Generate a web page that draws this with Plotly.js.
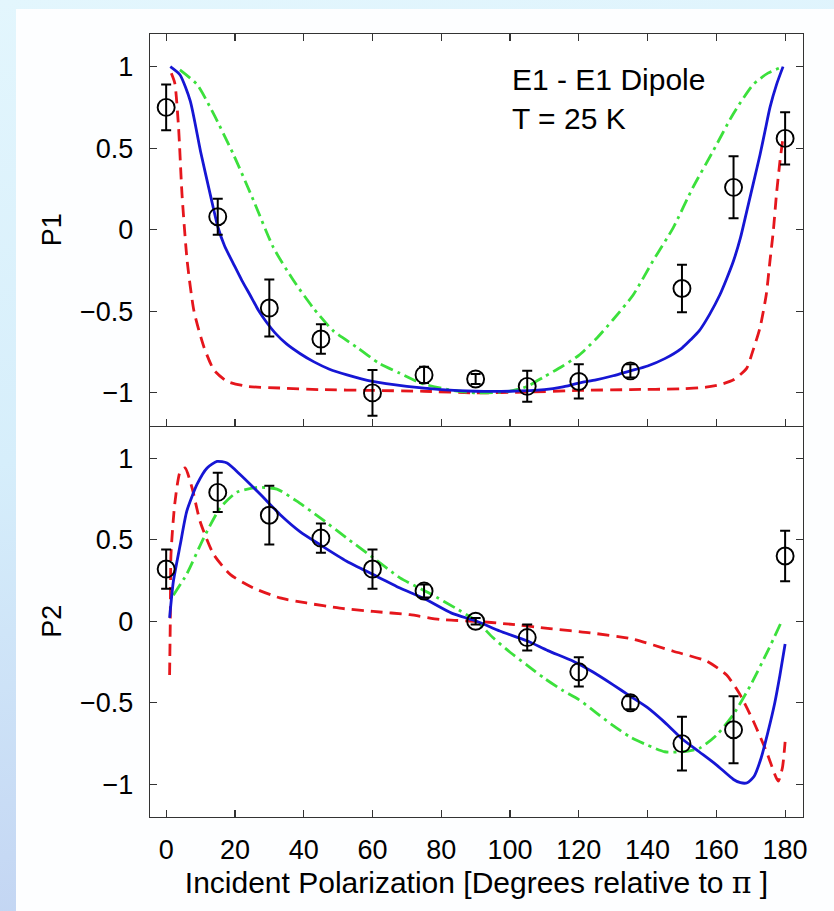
<!DOCTYPE html>
<html>
<head>
<meta charset="utf-8">
<script src="https://cdn.plot.ly/plotly-3.0.1.min.js"></script>
<style>
  html, body { margin:0; padding:0; width:834px; height:911px; overflow:hidden; }
  body { background: linear-gradient(172deg, #e3f6fd 0%, #d6eefb 45%, #bfd0f1 100%); position:relative; }
  #card { position:absolute; left:16px; top:9px; right:0; bottom:0; background:#fdfeff; }
  #chart { position:absolute; left:0; top:0; width:834px; height:911px; }
</style>
</head>
<body>
<div id="card"></div>
<div id="chart"></div>
<script>
// ---- measured data points (incident polarization, degrees) ----
const angles = [0, 15, 30, 45, 60, 75, 90, 105, 120, 135, 150, 165, 180];
const p1Obs = [0.75, 0.08, -0.48, -0.67, -1.0, -0.89, -0.915, -0.96, -0.93, -0.865, -0.36, 0.26, 0.56];
const p1Err = [0.14, 0.11, 0.175, 0.09, 0.14, 0.05, 0.03, 0.095, 0.105, 0.04, 0.145, 0.19, 0.16];
const p2Obs = [0.32, 0.79, 0.65, 0.51, 0.32, 0.185, 0.0, -0.1, -0.31, -0.5, -0.75, -0.665, 0.4];
const p2Err = [0.12, 0.12, 0.18, 0.09, 0.12, 0.04, 0.02, 0.08, 0.09, 0.04, 0.165, 0.205, 0.155];

// ---- P1 model curves ----
const p1BlueX = [1.2, 4, 7, 10, 13, 15, 17, 19.6, 22, 24.4, 27, 29.3, 32, 35, 39, 43, 47.5, 52.6, 60, 70, 80, 90, 100, 110, 115, 120, 125, 130, 135, 140, 145, 150, 152.5, 155, 158, 161, 163, 165, 167, 168.8, 170.7, 172.7, 174.2, 175.6, 177.5, 179.4];
const p1BlueY = [1.0, 0.95, 0.79, 0.48, 0.2, 0.02, -0.1, -0.21, -0.31, -0.40, -0.50, -0.57, -0.64, -0.70, -0.76, -0.81, -0.855, -0.89, -0.93, -0.96, -0.98, -0.99, -0.99, -0.98, -0.965, -0.94, -0.92, -0.895, -0.865, -0.835, -0.79, -0.725, -0.675, -0.62, -0.52, -0.40, -0.30, -0.19, -0.05, 0.11, 0.28, 0.46, 0.61, 0.75, 0.89, 1.0];
const p1GreenX = [4, 9, 13.8, 19.6, 25.4, 31.2, 37, 42.8, 48.6, 55.4, 62, 68, 74, 82, 90, 100, 105, 110, 115, 120, 125, 130, 135.8, 141.6, 147.4, 153.2, 159, 164.9, 170.7, 175, 179.4];
const p1GreenY = [0.98, 0.89, 0.71, 0.46, 0.18, -0.11, -0.31, -0.48, -0.62, -0.72, -0.82, -0.88, -0.94, -0.98, -1.0, -0.99, -0.96, -0.90, -0.84, -0.77, -0.67, -0.55, -0.40, -0.19, 0.01, 0.26, 0.48, 0.71, 0.89, 0.96, 1.0];
const p1RedX = [1.5, 2.5, 3.6, 4.6, 6.1, 8.1, 11, 13.9, 17.8, 23.6, 33, 45, 60, 75, 90, 105, 120, 135, 150, 157, 161, 165, 168.8, 170.5, 172.7, 174.5, 175.6, 176.6, 177.5, 178.5, 179.3];
const p1RedY = [0.96, 0.9, 0.63, 0.22, -0.19, -0.5, -0.72, -0.86, -0.93, -0.96, -0.97, -0.98, -0.985, -0.99, -1.0, -0.995, -0.985, -0.98, -0.975, -0.965, -0.95, -0.92, -0.85, -0.75, -0.6, -0.4, -0.19, 0.0, 0.22, 0.42, 0.55];

// ---- P2 model curves ----
const p2BlueX = [1, 2.1, 4.1, 6, 9, 11.9, 14.8, 17.7, 21.5, 27.3, 33.1, 38.9, 44.7, 52.5, 60.2, 68, 75, 83, 90.3, 97, 104.9, 111, 118.4, 124, 130, 135, 140, 145, 150, 155, 160, 165, 167, 169, 171, 173, 175, 177, 178.5, 180];
const p2BlueY = [0.02, 0.245, 0.47, 0.675, 0.84, 0.94, 0.98, 0.97, 0.90, 0.78, 0.655, 0.55, 0.47, 0.368, 0.286, 0.204, 0.14, 0.05, 0.0, -0.06, -0.12, -0.18, -0.245, -0.31, -0.39, -0.46, -0.53, -0.62, -0.72, -0.80, -0.88, -0.97, -0.99, -0.99, -0.95, -0.84, -0.68, -0.50, -0.33, -0.14];
const p2GreenX = [2.1, 6, 10.9, 15.7, 20.5, 26.4, 32.2, 38, 44.8, 52.5, 60.2, 68, 76.7, 85, 90.3, 95, 100, 105, 110, 115, 120, 125, 130, 135, 140, 145, 150, 155, 160, 165, 170, 175, 179];
const p2GreenY = [0.16, 0.29, 0.51, 0.695, 0.79, 0.82, 0.81, 0.736, 0.634, 0.51, 0.39, 0.266, 0.17, 0.07, 0.0, -0.1, -0.19, -0.27, -0.35, -0.42, -0.48, -0.56, -0.64, -0.71, -0.76, -0.80, -0.80, -0.78, -0.70, -0.57, -0.39, -0.18, 0.0];
const p2RedX = [1, 1.2, 1.4, 2.5, 4.1, 5.5, 7.5, 9.9, 13.8, 18.7, 25.4, 33.1, 40.8, 50.5, 60.2, 70.9, 80, 90, 99, 111.6, 123.3, 135.9, 147.5, 157.2, 163, 166.9, 170.7, 174.6, 178, 179.2, 180];
const p2RedY = [-0.33, 0.0, 0.41, 0.72, 0.92, 0.94, 0.82, 0.61, 0.41, 0.286, 0.204, 0.143, 0.112, 0.08, 0.06, 0.04, 0.01, 0.0, -0.016, -0.045, -0.071, -0.11, -0.184, -0.245, -0.33, -0.45, -0.61, -0.80, -0.98, -0.9, -0.74];

const xTicks = [0, 20, 40, 60, 80, 100, 120, 140, 160, 180];
const yTicks = [-1, -0.5, 0, 0.5, 1];
const annotationText = 'E1 - E1 Dipole<br>T = 25 K';

const FONT = 'Liberation Sans, Arial, Helvetica, sans-serif';
const BLUE = '#1616d4', RED = '#e5161c', GREEN = '#3ce03c';
const W = 2.8;

function curve(x, y, color, dash, xa, ya) {
  return { x: x, y: y, type: 'scatter', mode: 'lines', xaxis: xa, yaxis: ya,
           line: { color: color, width: W, dash: dash, shape: 'spline', smoothing: 0.6 }, hoverinfo: 'skip', showlegend: false };
}
function points(y, err, xa, ya) {
  return { x: angles, y: y, type: 'scatter', mode: 'markers', xaxis: xa, yaxis: ya, showlegend: false,
           error_y: { type: 'data', array: err, visible: true, color: '#000', thickness: 2, width: 5 },
           marker: { symbol: 'circle-open', size: 17, color: '#000', line: { width: 1.9, color: '#000' } } };
}

const dashRed = '12px,7px';
const dashGreen = '13px,5px,3px,5px';

const data = [
  curve(p1RedX, p1RedY, RED, dashRed, 'x2', 'y2'),
  curve(p1GreenX, p1GreenY, GREEN, dashGreen, 'x2', 'y2'),
  curve(p1BlueX, p1BlueY, BLUE, 'solid', 'x2', 'y2'),
  points(p1Obs, p1Err, 'x2', 'y2'),
  curve(p2RedX, p2RedY, RED, dashRed, 'x', 'y'),
  curve(p2GreenX, p2GreenY, GREEN, dashGreen, 'x', 'y'),
  curve(p2BlueX, p2BlueY, BLUE, 'solid', 'x', 'y'),
  points(p2Obs, p2Err, 'x', 'y')
];

const axisCommon = {
  showgrid: false, zeroline: false, showline: true, linecolor: '#333', linewidth: 1.3,
  ticks: 'inside', ticklen: 7, tickwidth: 1.2, tickcolor: '#333',
  tickfont: { family: FONT, size: 27, color: '#000' }
};

const layout = {
  width: 834, height: 911,
  margin: { l: 150, r: 31, t: 34, b: 94 },
  paper_bgcolor: 'rgba(0,0,0,0)',
  plot_bgcolor: '#ffffff',
  font: { family: FONT, color: '#000' },
  showlegend: false,
  xaxis: Object.assign({}, axisCommon, {
    domain: [0, 1], anchor: 'y', range: [-4.7, 185.2], tickvals: xTicks, mirror: false,
    ticklabelstandoff: 8,
    title: { text: 'Incident Polarization [Degrees relative to <span style="font-family:DejaVu Serif">π</span> ]',
             font: { family: FONT, size: 30, color: '#000' }, standoff: 2 }
  }),
  xaxis2: Object.assign({}, axisCommon, {
    domain: [0, 1], anchor: 'y2', matches: 'x', range: [-4.7, 185.2], tickvals: xTicks,
    mirror: 'ticks', showticklabels: false
  }),
  yaxis: Object.assign({}, axisCommon, {
    domain: [0, 0.5], anchor: 'x', range: [-1.2, 1.2], tickvals: yTicks, mirror: 'ticks',
    ticklabelstandoff: 10,
    title: { text: 'P2', font: { family: FONT, size: 27, color: '#000' }, standoff: 10 }
  }),
  yaxis2: Object.assign({}, axisCommon, {
    domain: [0.5, 1], anchor: 'x2', range: [-1.2, 1.2], tickvals: yTicks, mirror: 'ticks',
    ticklabelstandoff: 10,
    title: { text: 'P1', font: { family: FONT, size: 27, color: '#000' }, standoff: 10 }
  }),
  annotations: [{
    xref: 'x2', yref: 'y2', x: 100, y: 0.80, xanchor: 'left', yanchor: 'middle', align: 'left',
    showarrow: false, text: annotationText, font: { family: FONT, size: 30, color: '#000' }
  }]
};

Plotly.newPlot('chart', data, layout, { displayModeBar: false, staticPlot: true });
</script>
</body>
</html>
